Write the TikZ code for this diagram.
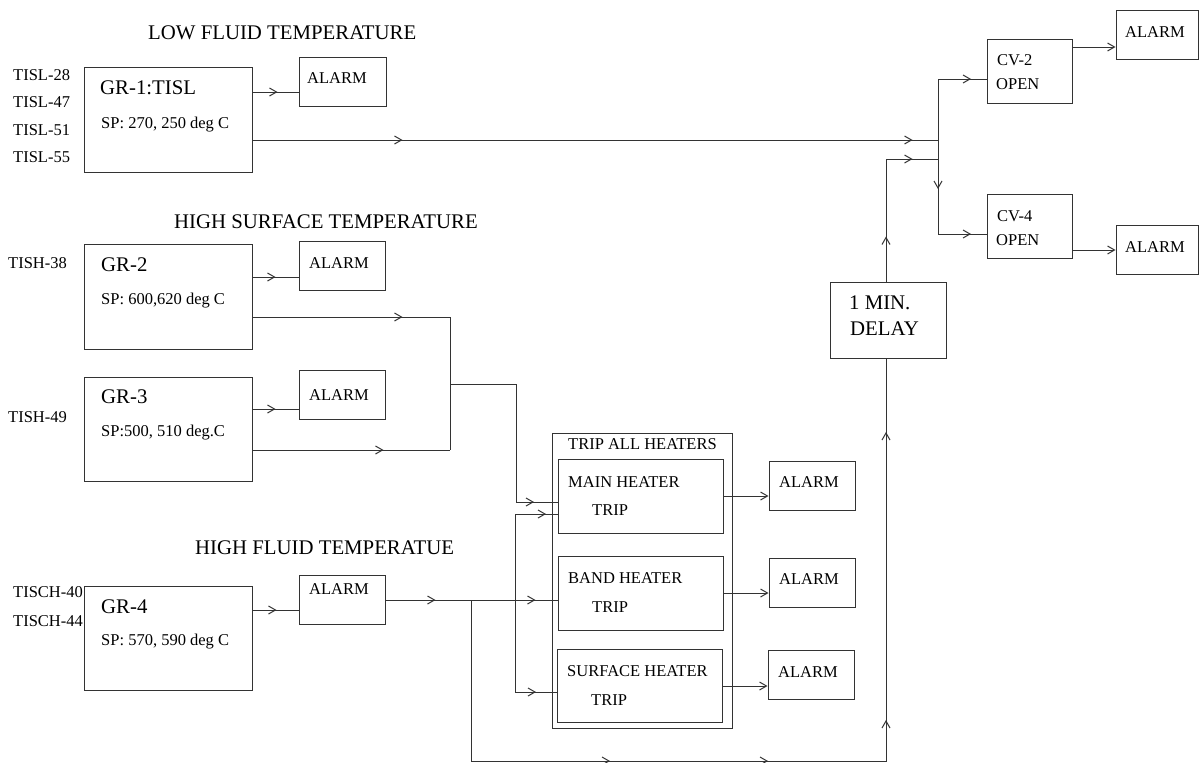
\documentclass[tikz,border=0pt]{standalone}
\usepackage{fontspec}
\setmainfont{Liberation Serif}
\usetikzlibrary{arrows.meta,decorations.markings}
\tikzset{
  box/.style={draw=black!80, line width=1pt, inner sep=0pt, rectangle},
  conn/.style={draw=black!80, line width=1pt},
  midarr/.style={postaction={decorate,decoration={markings,mark=at position #1 with {\arrow{Straight Barb[length=7pt,width=8pt]}}}}},
  endarr/.style={-{Straight Barb[length=7pt,width=8pt]}},
  bigt/.style={font=\fontsize{20.8}{24}\selectfont, inner sep=0pt, anchor=base west},
  smt/.style={font=\fontsize{16.5}{19}\selectfont, inner sep=0pt, anchor=base west}
}
\begin{document}
\begin{tikzpicture}[x=1pt,y=-1pt]
\useasboundingbox (0,0) rectangle (1200,763);

% boxes
\node[box,minimum width=168pt,minimum height=105pt] (gr1) at (168,119.5) {};
\node[box,minimum width=87pt,minimum height=49pt] (a1) at (342.5,81.5) {};
\node[box,minimum width=168pt,minimum height=105pt] (gr2) at (168,296.5) {};
\node[box,minimum width=86pt,minimum height=49pt] (a2) at (342,265.5) {};
\node[box,minimum width=168pt,minimum height=104pt] (gr3) at (168,429) {};
\node[box,minimum width=86pt,minimum height=49pt] (a3) at (342,394.5) {};
\node[box,minimum width=168pt,minimum height=104pt] (gr4) at (168,638) {};
\node[box,minimum width=86pt,minimum height=49pt] (a4) at (342,599.5) {};
\node[box,minimum width=180pt,minimum height=295pt] (trip) at (642,580.5) {};
\node[box,minimum width=165pt,minimum height=74pt] (main) at (640.5,496) {};
\node[box,minimum width=165pt,minimum height=74pt] (band) at (640.5,593) {};
\node[box,minimum width=165pt,minimum height=73pt] (surf) at (639.5,685.5) {};
\node[box,minimum width=86pt,minimum height=49pt] (ah1) at (812,485.5) {};
\node[box,minimum width=86pt,minimum height=49pt] (ah2) at (812,582.5) {};
\node[box,minimum width=86pt,minimum height=49pt] (ah3) at (811,674.5) {};
\node[box,minimum width=116pt,minimum height=76pt] (delay) at (888,320) {};
\node[box,minimum width=85pt,minimum height=64pt] (cv2) at (1029.5,71) {};
\node[box,minimum width=85pt,minimum height=64pt] (cv4) at (1029.5,226) {};
\node[box,minimum width=82pt,minimum height=49pt] (ar1) at (1157,34.5) {};
\node[box,minimum width=82pt,minimum height=49pt] (ar2) at (1157,249.5) {};

% texts
\node[bigt] (t1) at (148,39) {LOW FLUID TEMPERATURE};
\node[bigt] (t2) at (174,228) {HIGH SURFACE TEMPERATURE};
\node[bigt] (t3) at (195,554) {HIGH FLUID TEMPERATUE};
\node[bigt] (g1) at (100,94) {GR-1:TISL};
\node[bigt] (g2) at (101,271) {GR-2};
\node[bigt] (g3) at (101,403) {GR-3};
\node[bigt] (g4) at (101,613) {GR-4};
\node[bigt] (d1) at (849,309) {1 MIN.};
\node[bigt] (d2) at (850,335) {DELAY};
\node[smt] (s1) at (101,128) {SP: 270, 250 deg C};
\node[smt] (s2) at (101,304) {SP: 600,620 deg C};
\node[smt] (s3) at (101,436) {SP:500, 510 deg.C};
\node[smt] (s4) at (101,645) {SP: 570, 590 deg C};
\node[smt] (l1) at (13,80) {TISL-28};
\node[smt] (l2) at (13,107) {TISL-47};
\node[smt] (l3) at (13,135) {TISL-51};
\node[smt] (l4) at (13,162) {TISL-55};
\node[smt] (l5) at (8,268) {TISH-38};
\node[smt] (l6) at (8,422) {TISH-49};
\node[smt] (l7) at (13,597) {TISCH-40};
\node[smt] (l8) at (13,626) {TISCH-44};
\node[smt] (x1) at (307,83) {ALARM};
\node[smt] (x2) at (309,268) {ALARM};
\node[smt] (x3) at (309,400) {ALARM};
\node[smt] (x4) at (309,594) {ALARM};
\node[smt] (x5) at (779,487) {ALARM};
\node[smt] (x6) at (779,584) {ALARM};
\node[smt] (x7) at (778,677) {ALARM};
\node[smt] (x8) at (1125,37) {ALARM};
\node[smt] (x9) at (1125,252) {ALARM};
\node[smt] (h0) at (568,449) {TRIP ALL HEATERS};
\node[smt] (h1) at (568,487) {MAIN HEATER};
\node[smt] (h2) at (592,515) {TRIP};
\node[smt] (h3) at (568,583) {BAND HEATER};
\node[smt] (h4) at (592,612) {TRIP};
\node[smt] (h5) at (567,676) {SURFACE HEATER};
\node[smt] (h6) at (591,705) {TRIP};
\node[smt] (c1) at (997,65) {CV-2};
\node[smt] (c2) at (996,89) {OPEN};
\node[smt] (c3) at (997,221) {CV-4};
\node[smt] (c4) at (996,245) {OPEN};

% junction coordinates
\coordinate (j1) at (938,140);
\coordinate (j2) at (938,159);
\coordinate (jt) at (938,79);
\coordinate (jb) at (938,234);
\coordinate (k1) at (886,159);
\coordinate (m1) at (450,317);
\coordinate (m2) at (450,450);
\coordinate (m3) at (450,384);
\coordinate (m4) at (516,384);
\coordinate (m5) at (516,502);
\coordinate (n0) at (515,600);
\coordinate (n1) at (515,514);
\coordinate (n2) at (515,692);
\coordinate (b0) at (471,600);
\coordinate (b1) at (471,761);
\coordinate (b2) at (886,761);

% connectors
\draw[conn,midarr=25pt] (gr1.east |- 0,92) -- (a1.west |- 0,92);
\draw[conn,midarr=150pt,midarr=660pt] (gr1.east |- j1) -- (j1);
\draw[conn,midarr=45pt,midarr=149pt] (delay.north -| k1) -- (k1) -- (j2);
\draw[conn,midarr=110pt] (jt) -- (jb);
\draw[conn,midarr=33pt] (jt) -- (cv2.west |- jt);
\draw[conn,midarr=33pt] (jb) -- (cv4.west |- jb);
\draw[conn,endarr] (cv2.east |- 0,47) -- (ar1.west |- 0,47);
\draw[conn,endarr] (cv4.east |- 0,250) -- (ar2.west |- 0,250);
\draw[conn,midarr=23pt] (gr2.east |- 0,277) -- (a2.west |- 0,277);
\draw[conn,midarr=23pt] (gr3.east |- 0,409) -- (a3.west |- 0,409);
\draw[conn,midarr=24pt] (gr4.east |- 0,610) -- (a4.west |- 0,610);
\draw[conn,midarr=150pt] (gr2.east |- m1) -- (m1);
\draw[conn,midarr=131pt] (gr3.east |- m2) -- (m2);
\draw[conn] (m1) -- (m2);
\draw[conn,midarr=202pt] (m3) -- (m4) -- (m5) -- (main.west |- m5);
\draw[conn,midarr=50pt,midarr=150pt] (a4.east |- b0) -- (band.west |- b0);
\draw[conn,midarr=117pt] (n0) -- (n1) -- (main.west |- n1);
\draw[conn,midarr=113pt] (n0) -- (n2) -- (surf.west |- n2);
\draw[conn,midarr=300pt,midarr=458pt,midarr=617pt,midarr=905pt] (b0) -- (b1) -- (b2) -- (delay.south -| b2);
\draw[conn,endarr] (main.east |- 0,496) -- (ah1.west |- 0,496);
\draw[conn,endarr] (band.east |- 0,593) -- (ah2.west |- 0,593);
\draw[conn,endarr] (surf.east |- 0,686) -- (ah3.west |- 0,686);
\end{tikzpicture}
\end{document}
